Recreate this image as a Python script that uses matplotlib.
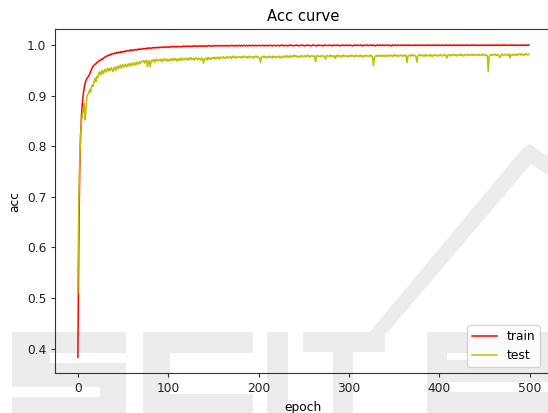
import matplotlib
matplotlib.use('Agg')
import matplotlib.pyplot as plt
from matplotlib.patches import Rectangle, Polygon

epochs = list(range(500))

train_acc = [
    .383,.600,.750,.820,.860,.885,.903,.915,.924,.930,
    .934,.936,.939,.942,.947,.952,.955,.958,.960,.962,
    .963,.965,.966,.968,.969,.970,.972,.971,.973,.975,
    .976,.977,.978,.979,.979,.981,.980,.982,.983,.982,
    .983,.984,.983,.985,.984,.986,.985,.985,.987,.986,
    .987,.986,.988,.987,.988,.989,.988,.989,.990,.989,
    .990,.989,.990,.991,.990,.991,.990,.992,.991,.992,
    .991,.992,.993,.992,.993,.992,.993,.994,.993,.994,
    .994,.993,.994,.995,.994,.995,.994,.995,.995,.994,
    .995,.996,.995,.995,.996,.995,.996,.996,.995,.996,
    .996,.995,.996,.997,.996,.996,.997,.996,.997,.996,.997,.997,.996,.997,.997,.996,.997,.998,.997,.997,
    .997,.998,.997,.997,.998,.997,.997,.998,.997,.998,.998,.997,.998,.997,.998,.998,.997,.998,.998,.997,
    .998,.998,.997,.998,.998,.999,.998,.998,.997,.998,.998,.999,.998,.998,.999,.998,.998,.999,.998,.998,
    .999,.998,.998,.999,.998,.999,.998,.998,.999,.998,.999,.999,.998,.998,.999,.998,.999,.998,.999,.999,
    .998,.999,.998,.999,.999,.998,.999,.999,.998,.999,.999,.998,.999,.999,.999,.998,.999,.999,.998,.999,
    .999,.999,.998,.999,.999,.999,.998,.999,.999,.999,.998,.999,.999,.999,.999,.998,.999,.999,.999,.998,
    .999,.999,.999,.998,.999,.999,1.00,.999,.998,.999,.999,.999,.998,.999,.999,1.00,.999,.999,.998,.999,
    .999,.999,1.00,.999,.998,.999,.999,.999,1.00,.999,.999,.998,.999,.999,1.00,.999,.999,.999,.998,.999,
    1.00,.999,.999,.999,.998,.999,1.00,.999,.999,.999,.999,.998,.999,1.00,.999,.999,.999,.999,1.00,.999,
    .999,.998,.999,1.00,.999,.999,.999,1.00,.999,.999,.998,.999,.999,1.00,.999,.999,.999,1.00,.999,.999,
    .999,1.00,.999,.999,.998,.999,1.00,.999,.999,1.00,.999,.999,.999,1.00,.999,.998,.999,1.00,.999,.999,
    1.00,.999,.999,.999,1.00,.999,.999,1.00,.999,.998,.999,1.00,.999,.999,1.00,.999,.999,1.00,.999,.999,
    .999,1.00,.999,.999,1.00,.999,.999,.998,1.00,.999,.999,1.00,.999,.999,1.00,.999,.999,.999,1.00,.999,
    .999,1.00,.999,.999,1.00,.999,1.00,.999,.999,.999,1.00,.999,.999,1.00,.999,.999,1.00,.999,.999,1.00,
    .999,.999,1.00,.999,.999,1.00,.999,1.00,.999,.999,1.00,.999,.999,1.00,.999,1.00,.999,.999,1.00,.999,
    1.00,.999,.999,1.00,.999,.999,1.00,.999,1.00,.999,.999,1.00,.999,1.00,.999,.999,1.00,.999,.999,1.00,
    .999,1.00,.999,.999,1.00,.999,1.00,.999,.999,1.00,.999,1.00,.999,.999,1.00,.999,1.00,.999,1.00,.999,
    1.00,.999,1.00,.999,.999,1.00,.999,1.00,.999,1.00,.999,.999,1.00,.999,1.00,.999,1.00,.999,.999,1.00,
    .999,1.00,.999,1.00,.999,1.00,.999,.999,1.00,.999,1.00,.999,1.00,.999,1.00,.999,.999,1.00,.999,1.00,
    1.00,.999,1.00,.999,1.00,.999,1.00,.999,.999,1.00,.999,1.00,.999,1.00,.999,1.00,.999,1.00,.999,1.00,
]

test_acc = [
    .510,.680,.770,.820,.848,.862,.870,.884,.852,.872,
    .898,.902,.905,.912,.906,.916,.921,.918,.928,.934,
    .927,.938,.935,.944,.947,.940,.945,.950,.943,.948,
    .952,.946,.950,.954,.948,.953,.950,.955,.951,.947,
    .954,.956,.950,.955,.958,.953,.957,.960,.954,.958,
    .961,.956,.959,.962,.957,.960,.963,.958,.961,.964,
    .959,.962,.965,.960,.963,.966,.961,.964,.967,.963,
    .966,.968,.967,.969,.964,.968,.970,.957,.966,.969,
    .957,.967,.970,.968,.971,.966,.969,.972,.968,.970,
    .971,.969,.972,.967,.970,.973,.969,.971,.972,.968,
    .971,.968,.972,.970,.973,.969,.971,.974,.970,.972,.968,.973,.971,.969,.974,.972,.970,.973,.971,.974,
    .972,.970,.974,.971,.973,.975,.971,.972,.974,.970,.973,.975,.972,.971,.974,.973,.970,.974,.972,.964,
    .972,.974,.973,.970,.975,.972,.974,.971,.975,.973,.974,.976,.972,.975,.973,.976,.974,.972,.976,.975,
    .974,.977,.975,.973,.976,.977,.974,.976,.975,.977,.973,.976,.978,.975,.976,.974,.977,.976,.975,.977,
    .976,.974,.977,.975,.978,.976,.975,.977,.974,.976,.978,.975,.977,.976,.974,.977,.976,.978,.975,.977,
    .976,.974,.965,.975,.977,.976,.978,.975,.977,.974,.976,.978,.975,.977,.976,.974,.978,.976,.977,.975,
    .977,.975,.978,.976,.974,.977,.976,.978,.975,.977,.979,.976,.978,.975,.977,.979,.976,.978,.977,.980,
    .977,.979,.976,.978,.977,.975,.978,.979,.976,.978,.977,.979,.976,.978,.980,.977,.978,.976,.979,.978,
    .977,.979,.976,.967,.978,.979,.977,.978,.976,.979,.978,.977,.979,.976,.972,.978,.979,.977,.978,.980,
    .977,.979,.978,.976,.979,.973,.978,.980,.977,.979,.978,.976,.979,.977,.980,.978,.977,.979,.978,.976,
    .979,.978,.980,.977,.979,.978,.976,.979,.980,.977,.978,.979,.977,.980,.978,.976,.979,.978,.980,.977,
    .979,.978,.977,.980,.978,.979,.976,.959,.974,.978,.979,.977,.980,.978,.979,.977,.980,.978,.979,.977,
    .980,.978,.979,.977,.980,.979,.978,.980,.977,.979,.981,.978,.979,.980,.977,.979,.978,.980,.979,.977,
    .980,.979,.978,.980,.965,.977,.979,.980,.978,.979,.981,.978,.980,.979,.977,.966,.978,.980,.979,.981,
    .978,.980,.979,.977,.980,.981,.978,.979,.980,.978,.981,.979,.977,.980,.979,.981,.978,.980,.979,.978,
    .980,.981,.979,.978,.980,.981,.979,.980,.974,.979,.981,.980,.978,.981,.979,.980,.982,.979,.980,.978,
    .981,.979,.980,.982,.979,.981,.980,.978,.981,.980,.979,.982,.980,.981,.979,.980,.982,.979,.981,.980,
    .979,.981,.980,.982,.979,.981,.980,.979,.982,.980,.981,.979,.980,.978,.947,.977,.980,.981,.979,.981,
    .981,.980,.982,.979,.981,.980,.978,.975,.980,.982,.981,.979,.980,.982,.981,.979,.980,.982,.974,.980,
    .981,.979,.982,.980,.981,.979,.982,.980,.981,.983,.980,.982,.981,.979,.982,.980,.983,.981,.980,.982,
]

W, H = 548, 413
fig = plt.figure(figsize=(W / 100, H / 100), dpi=100)
fig.patch.set_facecolor('white')

def fx(x):
    return x / W

def fy(y):
    return 1 - y / H

WM = '#ececec'

def rect(x0, y0, x1, y1, color=WM, z=-2):
    fig.patches.append(Rectangle((fx(x0), fy(y1)), (x1 - x0) / W, (y1 - y0) / H,
                                 transform=fig.transFigure, facecolor=color,
                                 edgecolor='none', zorder=z))

# watermark (background)
# S
rect(12, 332, 126, 440)
rect(50, 353, 127, 363, 'white', -1)
rect(11, 387, 100, 397, 'white', -1)
# C
rect(143, 332, 253, 440)
rect(170, 353, 254, 394, 'white', -1)
# I
rect(267, 332, 288, 440)
# T
rect(303, 332, 385, 352)
rect(333, 352, 353, 440)
# slash
fig.patches.append(Polygon([(fx(369), fy(333)), (fx(524), fy(147)), (fx(530), fy(144)),
                            (fx(549), fy(157)), (fx(549), fy(176)), (fx(531), fy(164)),
                            (fx(387), fy(333))],
                           closed=True, transform=fig.transFigure, facecolor=WM,
                           edgecolor='none', zorder=-2))
# E
rect(427, 332, 560, 440)
rect(447, 353, 535, 360, 'white', -1)
rect(447, 382, 560, 392, 'white', -1)

ax = fig.add_axes([fx(55.3), fy(373), (551.5 - 55.3) / W, (373 - 29.3) / H])
ax.set_facecolor('none')

ax.plot(epochs, train_acc, color='r', lw=1.1, label='train')
ax.plot(epochs, test_acc, color='y', lw=1.1, label='test')

fs = 8.8
ax.set_title('Acc curve', fontsize=10.6)
ax.set_xlabel('epoch', fontsize=fs)
ax.set_ylabel('acc', fontsize=fs)
ax.tick_params(labelsize=fs, length=3, color='#333333', labelcolor='#222222')
ax.set_xticks([0, 100, 200, 300, 400, 500])
ax.set_yticks([0.4, 0.5, 0.6, 0.7, 0.8, 0.9, 1.0])
for s in ax.spines.values():
    s.set_color('#333333')

ax.legend(loc='lower right', fontsize=fs, bbox_to_anchor=(fx(540), fy(367)),
          bbox_transform=fig.transFigure, borderaxespad=0)

fig.savefig('out.png', dpi=100)
